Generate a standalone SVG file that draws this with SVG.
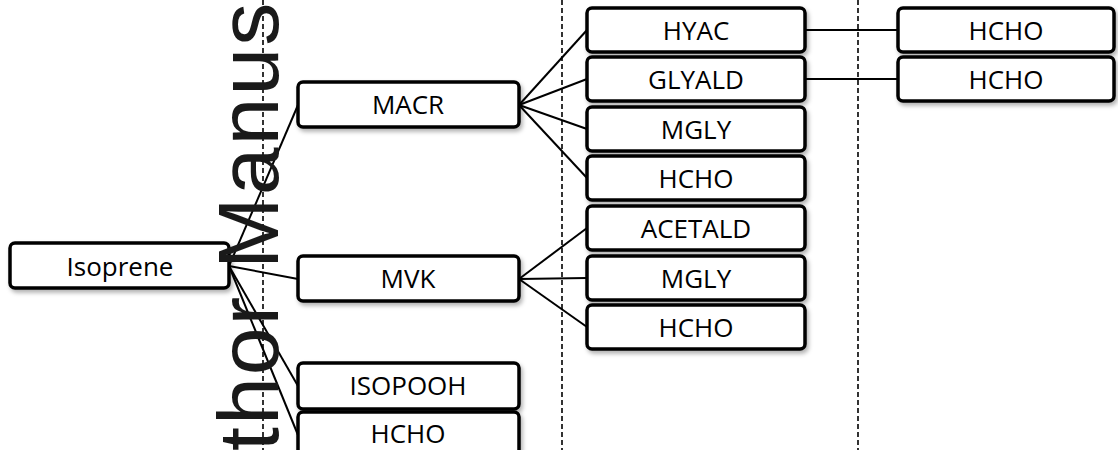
<svg xmlns="http://www.w3.org/2000/svg" width="1118" height="450" viewBox="0 0 1118 450">
<defs>
<filter id="sh" x="-10%" y="-20%" width="130%" height="160%">
<feDropShadow dx="2" dy="3" stdDeviation="2" flood-color="#000" flood-opacity="0.3"/>
</filter>
<style>
.box{fill:#fff;stroke:#000;stroke-width:3.5;filter:url(#sh)}
.lbl{font-family:"Open Sans","Liberation Sans",sans-serif;font-size:26px;fill:#000;text-anchor:middle}
.con{stroke:#000;stroke-width:2;fill:none}
.dash{stroke:#000;stroke-width:1.6;stroke-dasharray:5,3;fill:none}
.wm{font-family:"Liberation Sans",Arial,sans-serif;font-size:86px;fill:#1a1a1a;letter-spacing:2px}
</style>
</defs>
<rect width="1118" height="450" fill="#fff"/>
<g id="dividers">
<line class="dash" x1="263" y1="0" x2="263" y2="450"/>
<line class="dash" x1="562" y1="0" x2="562" y2="450"/>
<line class="dash" x1="858" y1="0" x2="858" y2="450"/>
</g>
<g id="connectors">
<line class="con" x1="229" y1="266" x2="298" y2="105"/>
<line class="con" x1="229" y1="266" x2="298" y2="279"/>
<line class="con" x1="229" y1="266" x2="298" y2="386"/>
<line class="con" x1="229" y1="266" x2="298" y2="435"/>
<line class="con" x1="519" y1="105" x2="587" y2="30"/>
<line class="con" x1="519" y1="105" x2="587" y2="79"/>
<line class="con" x1="519" y1="105" x2="587" y2="129"/>
<line class="con" x1="519" y1="105" x2="587" y2="178"/>
<line class="con" x1="519" y1="279" x2="587" y2="228"/>
<line class="con" x1="519" y1="279" x2="587" y2="278"/>
<line class="con" x1="519" y1="279" x2="587" y2="327"/>
<line class="con" x1="805" y1="30" x2="898" y2="30"/>
<line class="con" x1="805" y1="79" x2="898" y2="79"/>
</g>
<g id="isoprene"><rect class="box" x="10" y="243" width="219" height="45" rx="5"/><text class="lbl" x="120" y="276">Isoprene</text></g>
<g id="macr"><rect class="box" x="298" y="82" width="221" height="45" rx="5"/><text class="lbl" x="408" y="114">MACR</text></g>
<g id="mvk"><rect class="box" x="298" y="256" width="221" height="45" rx="5"/><text class="lbl" x="408" y="288">MVK</text></g>
<g id="isopooh"><rect class="box" x="298" y="363" width="221" height="46" rx="5"/><text class="lbl" x="408" y="395">ISOPOOH</text></g>
<g id="hcho1"><rect class="box" x="298" y="412" width="221" height="46" rx="5"/><text class="lbl" x="408" y="443">HCHO</text></g>
<g id="hyac"><rect class="box" x="587" y="8" width="218" height="44" rx="5"/><text class="lbl" x="696" y="40">HYAC</text></g>
<g id="glyald"><rect class="box" x="587" y="57" width="218" height="44" rx="5"/><text class="lbl" x="696" y="89">GLYALD</text></g>
<g id="mgly1"><rect class="box" x="587" y="107" width="218" height="44" rx="5"/><text class="lbl" x="696" y="139">MGLY</text></g>
<g id="hcho2"><rect class="box" x="587" y="156" width="218" height="44" rx="5"/><text class="lbl" x="696" y="188">HCHO</text></g>
<g id="acetald"><rect class="box" x="587" y="206" width="218" height="44" rx="5"/><text class="lbl" x="696" y="238">ACETALD</text></g>
<g id="mgly2"><rect class="box" x="587" y="256" width="218" height="44" rx="5"/><text class="lbl" x="696" y="288">MGLY</text></g>
<g id="hcho3"><rect class="box" x="587" y="305" width="218" height="44" rx="5"/><text class="lbl" x="696" y="337">HCHO</text></g>
<g id="hcho4"><rect class="box" x="898" y="8" width="216" height="44" rx="5"/><text class="lbl" x="1006" y="40">HCHO</text></g>
<g id="hcho5"><rect class="box" x="898" y="57" width="216" height="44" rx="5"/><text class="lbl" x="1006" y="89">HCHO</text></g>
<g id="watermark"><text class="wm" transform="translate(278,451) rotate(-90)">thor Manus</text></g>
</svg>
